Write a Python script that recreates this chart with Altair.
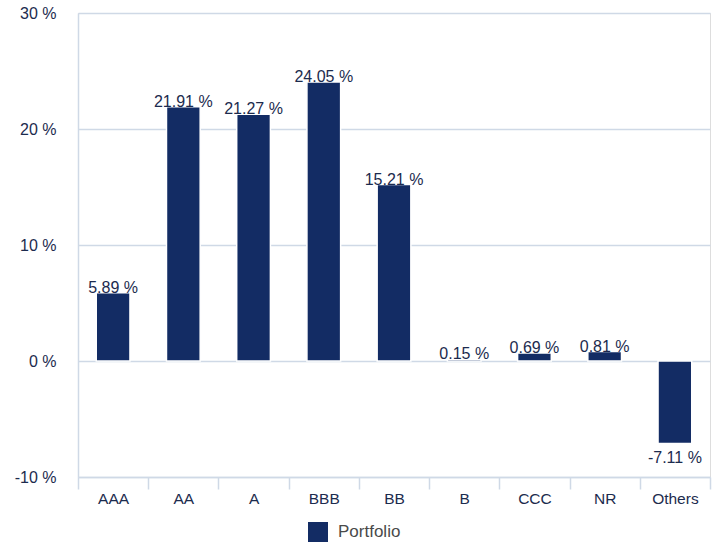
import altair as alt
import pandas as pd

categories = ["AAA", "AA", "A", "BBB", "BB", "B", "CCC", "NR", "Others"]
values = [5.89, 21.91, 21.27, 24.05, 15.21, 0.15, 0.69, 0.81, -7.11]
series = ["Portfolio"] * len(categories)
y_ticks = [-10, 0, 10, 20, 30]

df = pd.DataFrame({"cat": categories, "v": values, "series": series})

NAVY = "#132c64"
TXT = "#1c2b4e"
GRID = "#cfd9e6"
FONT = "Liberation Sans"

LBL = "(datum.v < 0 ? '-' : '') + format(abs(datum.v), '.2f') + ' %'"

x = alt.X("cat:N", sort=categories, title=None,
          scale=alt.Scale(paddingInner=0, paddingOuter=0),
          axis=alt.Axis(labelAngle=0, domain=True, domainColor=GRID, domainWidth=1.5,
                        ticks=True, tickBand="extent", tickColor=GRID, tickWidth=1.5,
                        tickSize=12, labelPadding=2, labelFontSize=15.5,
                        labelColor=TXT, labelFont=FONT, grid=False))

base = alt.Chart(df)

bars = base.mark_bar(color=NAVY, width=alt.RelativeBandSize(0.48),
                     stroke="white", strokeWidth=1.5).encode(
    x=x,
    y=alt.Y("v:Q", title=None,
            scale=alt.Scale(domain=[-10, 30], nice=False, zero=False),
            axis=alt.Axis(values=y_ticks, labelExpr="datum.value + ' %'",
                          grid=True, gridColor=GRID, gridWidth=1.5,
                          domain=True, domainColor=GRID, domainWidth=1.5,
                          ticks=False, labelPadding=22, labelFontSize=16,
                          labelColor=TXT, labelFont=FONT)),
    fill=alt.Fill("series:N", title=None,
                  scale=alt.Scale(domain=["Portfolio"], range=[NAVY]),
                  legend=alt.Legend(orient="none", legendX=230, legendY=509,
                                    symbolType="square", symbolSize=400,
                                    symbolStrokeWidth=0,
                                    labelFontSize=17, labelColor="#4a4a4a",
                                    labelFont=FONT, labelOffset=10)),
)

pos_labels = base.transform_filter("datum.v >= 0").transform_calculate(
    lbl=LBL
).mark_text(baseline="alphabetic", dy=0, fontSize=16, color=TXT, font=FONT).encode(
    x=alt.X("cat:N", sort=categories),
    y="v:Q",
    text="lbl:N",
)

neg_labels = base.transform_filter("datum.v < 0").transform_calculate(
    lbl=LBL
).mark_text(baseline="top", dy=7, fontSize=16, color=TXT, font=FONT).encode(
    x=alt.X("cat:N", sort=categories),
    y="v:Q",
    text="lbl:N",
)

chart = alt.layer(bars, pos_labels, neg_labels).properties(
    width=632, height=464,
    autosize=alt.AutoSizeParams(type="none"),
    padding={"left": 78, "top": 13, "right": 10, "bottom": 68},
).configure_view(stroke=None).configure(background="white")

chart.save("out.html", embed_options={"renderer": "svg", "actions": False})
